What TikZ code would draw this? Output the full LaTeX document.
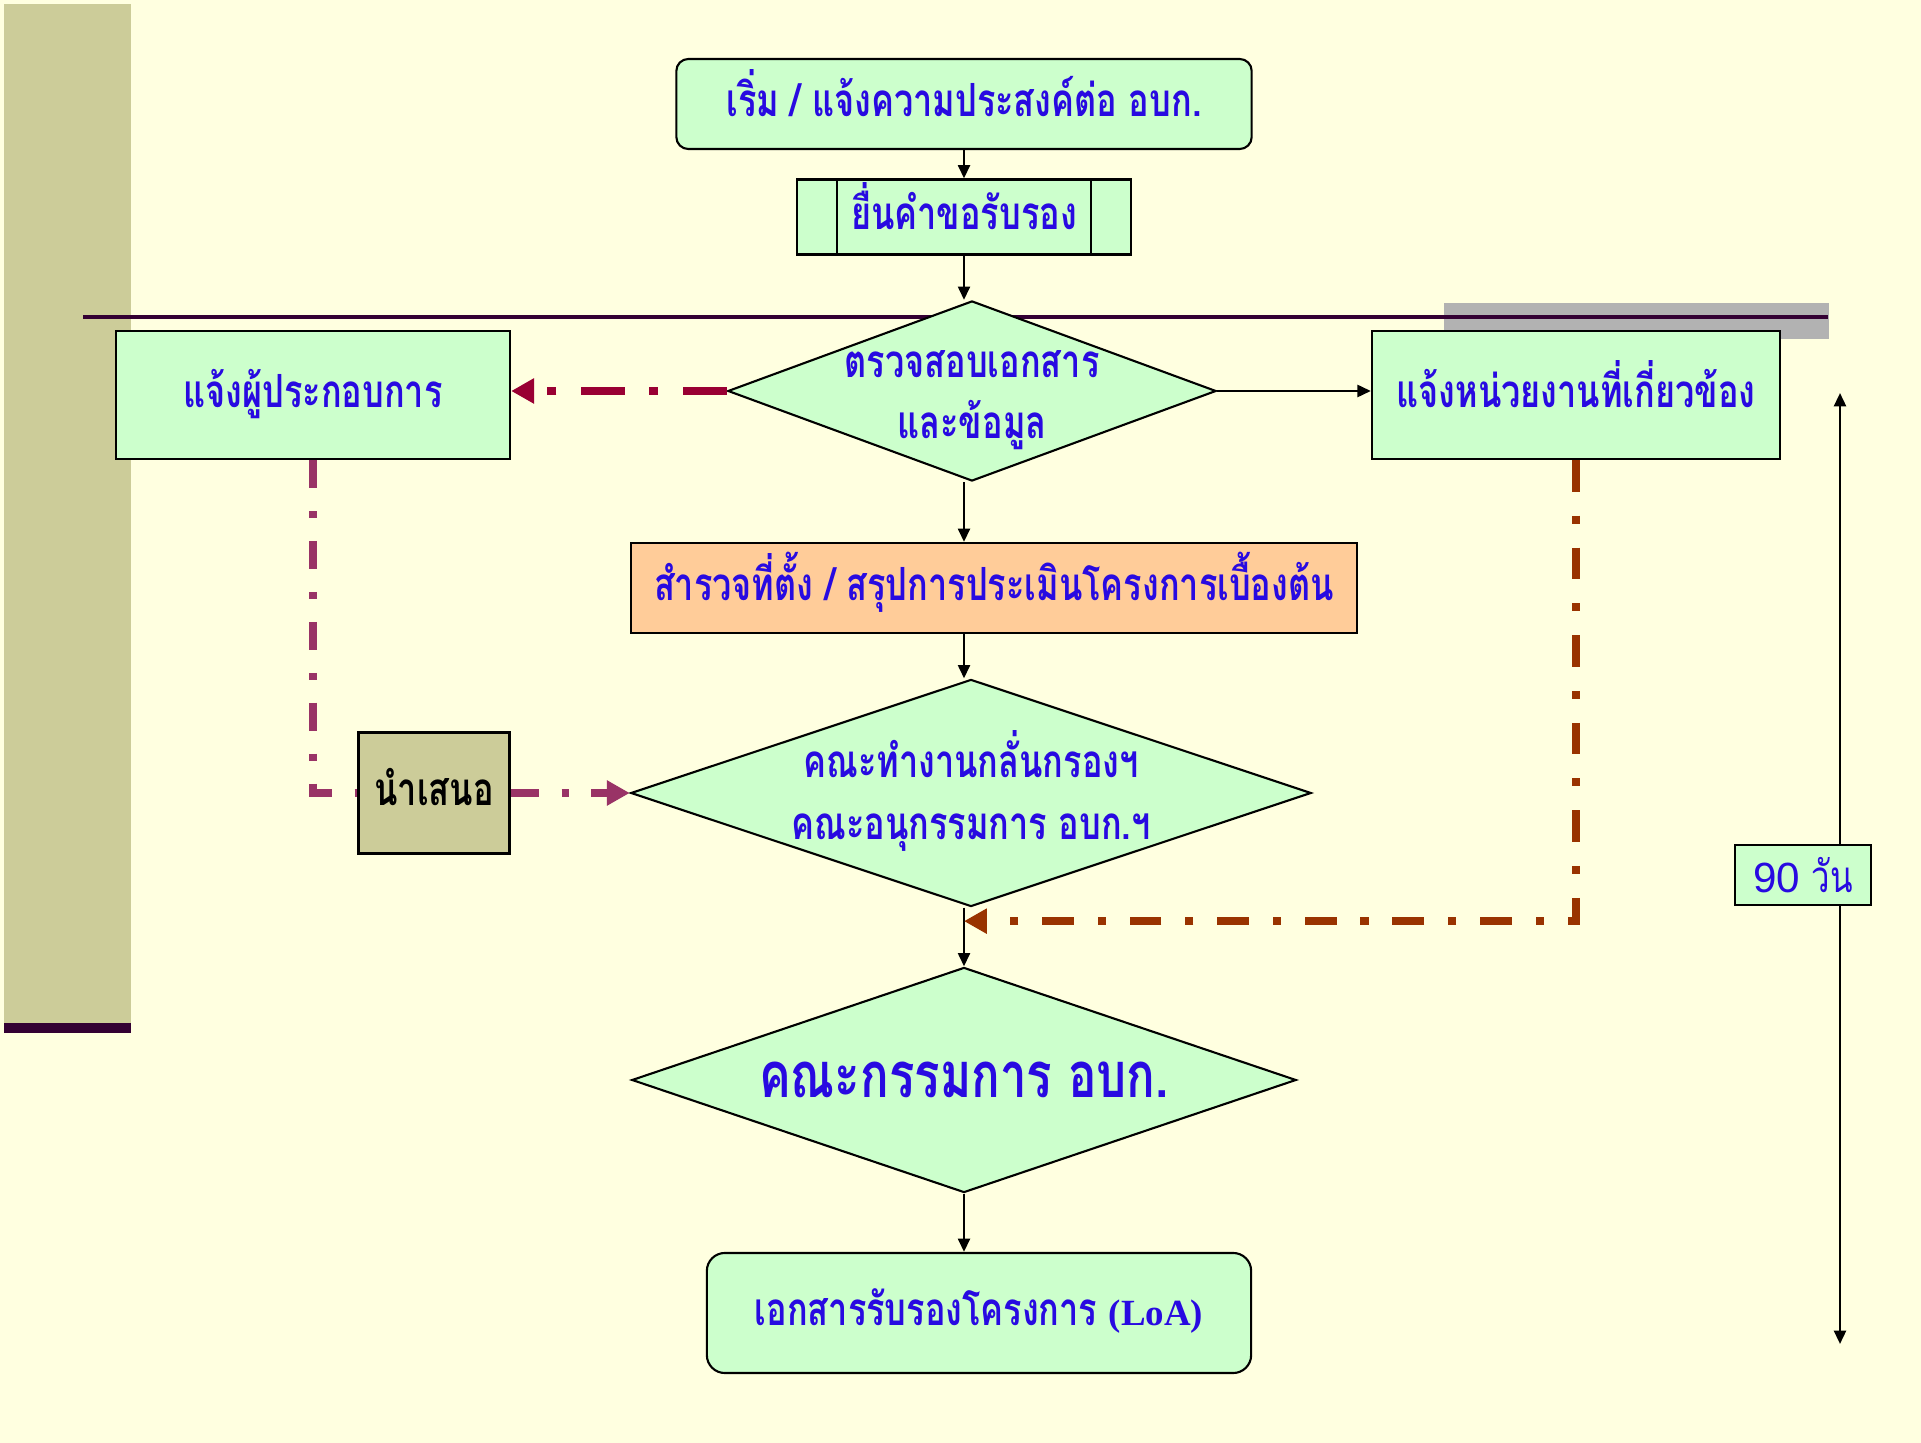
\documentclass[tikz,border=0pt]{standalone}
\usepackage{fontspec}
\usetikzlibrary{shapes.geometric,arrows.meta,calc}
\newfontfamily\thaifont[Script=Thai,FakeStretch=0.75]{Loma}
\newfontfamily\serifLatin{Liberation Serif}
\newfontfamily\arialLatin{Liberation Sans}
\definecolor{bgyellow}{RGB}{255,255,224}
\definecolor{olivebar}{RGB}{204,204,153}
\definecolor{darkplum}{RGB}{51,0,51}
\definecolor{shadegray}{RGB}{178,178,178}
\definecolor{boxgreen}{RGB}{204,255,204}
\definecolor{boxorange}{RGB}{255,204,153}
\definecolor{thaiblue}{RGB}{40,10,225}
\definecolor{crimson}{RGB}{153,0,51}
\definecolor{plum}{RGB}{153,51,102}
\definecolor{rust}{RGB}{153,51,0}
\begin{document}
\begin{tikzpicture}[x=0.01cm,y=-0.01cm,
    thai/.style={text=thaiblue,font=\thaifont\bfseries\fontsize{13}{17.5}\selectfont,align=center},
    box/.style={thai,draw=black,line width=0.6pt,fill=boxgreen,inner sep=0pt,text height=7.2pt,text depth=0pt},
    dia/.style={diamond,draw=black,line width=0.6pt,fill=boxgreen,inner sep=0pt},
    arr/.style={line width=0.7pt,-{Triangle[length=3.8pt,width=3.4pt]}},
    crimsonline/.style={draw=crimson,line width=2.4pt,dash pattern=on 12.5pt off 7pt on 2.5pt off 7pt},
    plumline/.style={draw=plum,line width=2pt,dash pattern=on 8pt off 6.5pt on 2pt off 6.5pt},
    rustline/.style={draw=rust,line width=2.2pt,dash pattern=on 9pt off 6.8pt on 2.3pt off 6.8pt},
    bigtip/.style={-{Triangle[length=6.5pt,width=6.8pt]}}]
  %
  \fill[bgyellow] (0,0) rectangle (1921,1443);
  \fill[olivebar] (4,4) rectangle (131,1023);
  \fill[darkplum] (4,1023) rectangle (131,1033);
  \fill[shadegray] (1444,303) rectangle (1829,339);
  \draw[darkplum,line width=1.15pt] (83,317) -- (1828,317);
  %
  \node[box,rounded corners=0.12cm,minimum width=5.75cm,minimum height=0.90cm] (start) at (964,104) {เริ่ม / แจ้งความประสงค์ต่อ อบก.};
  \node[box,minimum width=3.33cm,minimum height=0.75cm] (submit) at (964,217) {ยื่นคำขอรับรอง};
  \draw[line width=0.6pt] ([xshift=0.41cm]submit.north west) -- ([xshift=0.41cm]submit.south west);
  \draw[line width=0.6pt] ([xshift=-0.41cm]submit.north east) -- ([xshift=-0.41cm]submit.south east);
  %
  \node[dia,minimum width=4.88cm,minimum height=1.80cm] (check) at (972,391) {};
  \node[thai] (checktxt) at ($(check)+(0,9)$) {ตรวจสอบเอกสาร\\และข้อมูล};
  \node[box,minimum width=3.94cm,minimum height=1.28cm] (notifyop) at (313,395) {แจ้งผู้ประกอบการ};
  \node[box,minimum width=4.08cm,minimum height=1.28cm] (related) at (1576,395) {แจ้งหน่วยงานที่เกี่ยวข้อง};
  \node[box,fill=boxorange,minimum width=7.25cm,minimum height=0.90cm] (survey) at (994,588) {สำรวจที่ตั้ง / สรุปการประเมินโครงการเบื้องต้น};
  %
  \node[dia,minimum width=6.80cm,minimum height=2.27cm] (screen) at (971,793) {};
  \node[thai] (screentxt) at ($(screen)+(0,-2)$) {คณะทำงานกลั่นกรองฯ\\คณะอนุกรรมการ อบก.ฯ};
  \node[dia,minimum width=6.64cm,minimum height=2.25cm] (board) at (964,1080) {};
  \node[thai,font=\thaifont\bfseries\fontsize{18}{24}\selectfont] (boardtxt) at (board) {คณะกรรมการ อบก.};
  \node[box,rounded corners=0.18cm,minimum width=5.44cm,minimum height=1.20cm] (loa) at (979,1313) {เอกสารรับรองโครงการ {\serifLatin\bfseries\fontsize{10.5}{13}\selectfont (LoA)}};
  %
  \draw[arr] (start.south) -- (submit.north);
  \draw[arr] (submit.south) -- (submit.south |- check.north);
  \draw[arr] (check.east) -- (check.east -| related.west);
  \draw[arr] (check.south -| start.south) -- (survey.north -| start.south);
  \draw[arr] (survey.south -| start.south) -- (screen.north -| start.south);
  \draw[arr] (screen.south -| start.south) -- (board.north -| start.south);
  \draw[arr] (board.south) -- (board.south |- loa.north);
  \path (screen.south -| start.south) -- (board.north -| start.south) coordinate[pos=0.23] (merge);
  %
  \draw[crimsonline,bigtip] (check.west) -- (check.west -| notifyop.east);
  \node[box,fill=olivebar,text=black,minimum width=1.51cm,minimum height=1.21cm] (present) at (434,793) {นำเสนอ};
  \draw[plumline] (notifyop.south) |- (present.west);
  \draw[plumline,bigtip] (present.east) -- (screen.west);
  \draw[rustline,bigtip] (related.south) |- (merge);
  %
  \node[draw=black,line width=0.8pt,fill=boxgreen,text=thaiblue,minimum width=1.36cm,minimum height=0.60cm,inner sep=0pt] (days) at (1803,875) {{\arialLatin\fontsize{12}{14}\selectfont 90} {\thaifont\fontsize{12.5}{14}\selectfont วัน}};
  \coordinate (spantop) at (1840,393);
  \coordinate (spanbot) at (1840,1344);
  \draw[arr] (spantop |- days.north) -- (spantop);
  \draw[arr] (spantop |- days.south) -- (spanbot);
\end{tikzpicture}
\end{document}
